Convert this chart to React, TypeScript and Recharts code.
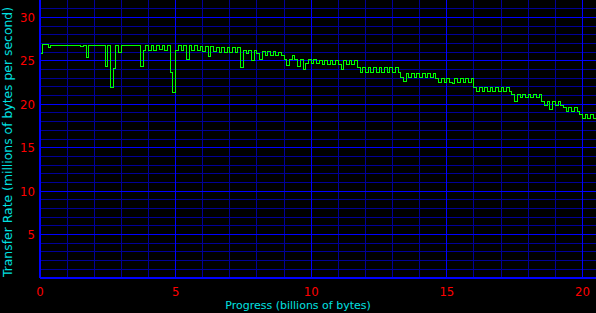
import { LineChart, Line, XAxis, YAxis, CartesianGrid, ReferenceLine } from "recharts"

// transfer rate (millions of bytes/s), one sample per 0.1 billion bytes
const rate0to5 = [
  25.8, 26.9, 26.9, 26.5, 26.8, 26.8, 26.8, 26.8, 26.8, 26.8,
  26.8, 26.8, 26.8, 26.8, 26.8, 26.6, 26.8, 25.4, 26.8, 26.8,
  26.8, 26.8, 26.8, 26.8, 24.3, 26.8, 21.9, 24.1, 26.8, 25.9,
  26.8, 26.8, 26.8, 26.8, 26.8, 26.8, 26.8, 24.3, 26.2, 26.8,
  26.2, 26.8, 26.2, 26.8, 26.3, 26.8, 26.2, 26.8, 23.7, 21.3,
]
const rate5to10 = [
  26.2, 26.8, 26.2, 26.8, 25.2, 26.8, 26.2, 26.8, 26.2, 26.7,
  26.1, 26.7, 25.5, 26.7, 26.1, 26.5, 26.0, 26.5, 26.0, 26.5,
  26.0, 26.5, 26.0, 26.5, 24.2, 26.2, 25.8, 26.2, 25.0, 26.2,
  25.8, 25.1, 26.1, 25.6, 26.1, 25.6, 26.1, 25.6, 26.0, 25.6,
  25.2, 24.5, 25.2, 25.6, 25.2, 24.3, 25.1, 24.0, 24.7, 25.1,
]
const rate10to15 = [
  24.7, 25.1, 24.7, 25.0, 24.6, 25.0, 24.6, 25.0, 24.6, 25.0,
  24.6, 24.0, 25.0, 24.6, 25.0, 24.6, 25.0, 24.2, 23.7, 24.2,
  23.7, 24.2, 23.7, 24.2, 23.7, 24.2, 23.7, 24.2, 23.7, 24.2,
  23.7, 24.2, 23.7, 23.1, 22.6, 23.5, 23.1, 23.5, 23.1, 23.5,
  23.1, 23.5, 23.1, 23.5, 23.1, 23.5, 23.0, 22.5, 23.0, 22.5,
]
const rate15to20 = [
  23.0, 22.5, 22.4, 23.0, 22.5, 23.0, 22.5, 23.0, 22.5, 23.0,
  21.9, 21.5, 21.9, 21.5, 21.9, 21.5, 21.9, 21.5, 21.9, 21.5,
  21.9, 21.5, 21.9, 21.5, 21.1, 20.3, 21.1, 20.8, 21.1, 20.8,
  21.1, 20.8, 21.1, 20.8, 21.1, 20.3, 19.9, 20.3, 19.4, 20.3,
  19.9, 20.3, 19.9, 19.6, 19.2, 19.6, 19.2, 19.6, 19.2, 18.8,
  18.4, 18.8, 18.4, 18.8, 18.4, 18.8,
]

const xTicks = [0, 5, 10, 15, 20]
const yTicks = [5, 10, 15, 20, 25, 30]
const xMajor = [5, 10, 15, 20]
// grid lines every 1 unit (dark), majors on top (bright)
const xGrid = [1, 2, 3, 4, 5, 6, 7, 8, 9, 10, 11, 12, 13, 14, 15, 16, 17, 18, 19, 20]
const yGrid = [
  1, 2, 3, 4, 5, 6, 7, 8, 9, 10, 11, 12, 13, 14, 15, 16,
  17, 18, 19, 20, 21, 22, 23, 24, 25, 26, 27, 28, 29, 30, 31,
]

const rates = [...rate0to5, ...rate5to10, ...rate10to15, ...rate15to20]
const data = rates.map((rate, i) => ({ gb: i / 10, rate }))

const MAJOR = "#0000ff"
const MINOR = "#000098"

const tickStyle = { fill: "#ff0000", fontSize: 13, fontFamily: "'Liberation Sans Narrow', 'DejaVu Sans Condensed', sans-serif" }
const titleFont = { fill: "#00e0e0", fontFamily: "'DejaVu Sans', sans-serif" }

export default function App() {
  return (
    <div style={{ position: "absolute", left: 0, top: 0, width: 596, height: 313, background: "#000" }}>
      <LineChart width={596} height={313} data={data} margin={{ top: 0, right: 0, bottom: 0, left: 0 }}>
        <CartesianGrid stroke={MINOR} shapeRendering="crispEdges" horizontalValues={yGrid} verticalValues={xGrid} />
        {xMajor.map((v) => (
          <ReferenceLine key={`x${v}`} x={v} stroke={MAJOR} shapeRendering="crispEdges" />
        ))}
        {yTicks.map((v) => (
          <ReferenceLine key={`y${v}`} y={v} stroke={MAJOR} shapeRendering="crispEdges" />
        ))}
        <XAxis
          type="number"
          dataKey="gb"
          domain={[0, 20.5]}
          ticks={xTicks}
          interval={0}
          height={35}
          tickLine={false}
          tickSize={0}
          tickMargin={9}
          axisLine={{ stroke: MAJOR, strokeWidth: 1.5, shapeRendering: "crispEdges" }}
          tick={tickStyle}
          label={{ value: "Progress (billions of bytes)", position: "insideBottom", offset: 4, dx: -20, fontSize: 11, ...titleFont }}
        />
        <YAxis
          type="number"
          domain={[0, 32]}
          ticks={yTicks}
          interval={0}
          width={40}
          tickLine={false}
          tickSize={0}
          tickMargin={5}
          axisLine={{ stroke: MAJOR, strokeWidth: 1.5, shapeRendering: "crispEdges" }}
          tick={tickStyle}
          label={{ value: "Transfer Rate (millions of bytes per second)", angle: -90, position: "center", dx: -12, dy: 3, fontSize: 12.4, ...titleFont }}
        />
        <Line
          type="stepAfter"
          dataKey="rate"
          stroke="#00ff00"
          strokeWidth={1}
          shapeRendering="crispEdges"
          dot={false}
          isAnimationActive={false}
        />
      </LineChart>
    </div>
  )
}
